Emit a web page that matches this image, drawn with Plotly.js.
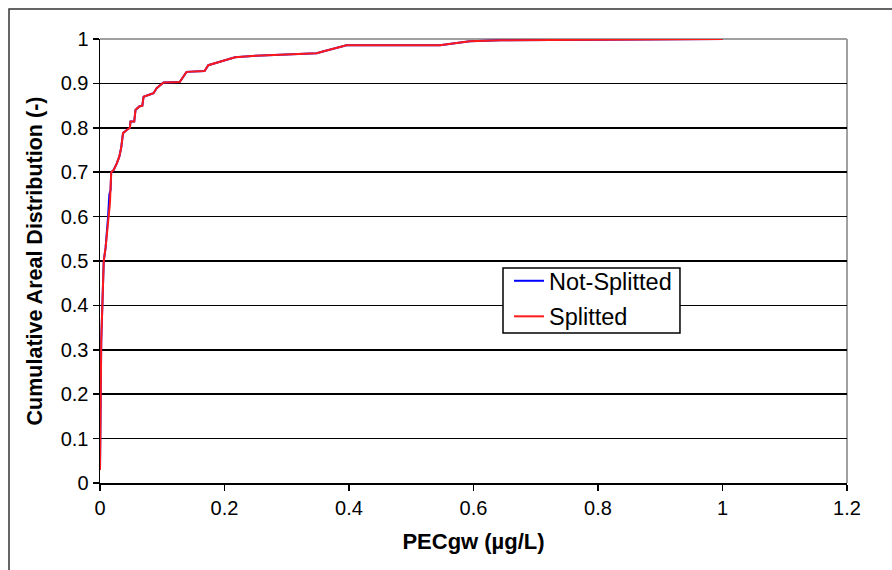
<!DOCTYPE html>
<html>
<head>
<meta charset="utf-8">
<script src="https://cdn.plot.ly/plotly-3.0.1.min.js"></script>
<style>html,body{margin:0;padding:0;background:#fff;}#chart{width:892px;height:570px;}</style>
</head>
<body>
<div id="chart"></div>
<script>
// PECgw values (µg/L) and cumulative areal distribution (-)
const notSplittedX = [0, 0.001, 0.002, 0.004, 0.006, 0.009, 0.011, 0.013, 0.015, 0.017, 0.018, 0.022, 0.027, 0.031, 0.034, 0.037, 0.043, 0.048, 0.049, 0.055, 0.057, 0.063, 0.068, 0.070, 0.080, 0.086, 0.091, 0.102, 0.128, 0.139, 0.168, 0.174, 0.198, 0.217, 0.250, 0.316, 0.348, 0.361, 0.396, 0.546, 0.594, 0.643, 0.800, 1.000];
const notSplittedY = [0.03, 0.15, 0.32, 0.41, 0.50, 0.53, 0.56, 0.60, 0.65, 0.66, 0.70, 0.705, 0.72, 0.735, 0.755, 0.788, 0.795, 0.80, 0.814, 0.814, 0.84, 0.848, 0.85, 0.87, 0.875, 0.878, 0.889, 0.902, 0.903, 0.926, 0.928, 0.941, 0.951, 0.959, 0.962, 0.965, 0.968, 0.973, 0.986, 0.986, 0.995, 0.997, 0.999, 1.0];
const splittedX = [0, 0.001, 0.002, 0.004, 0.006, 0.009, 0.011, 0.014, 0.016, 0.018, 0.022, 0.027, 0.031, 0.034, 0.037, 0.043, 0.048, 0.049, 0.055, 0.057, 0.063, 0.068, 0.070, 0.080, 0.086, 0.091, 0.102, 0.128, 0.139, 0.168, 0.174, 0.198, 0.217, 0.250, 0.316, 0.348, 0.361, 0.396, 0.546, 0.594, 0.643, 0.800, 1.000];
const splittedY = [0.03, 0.15, 0.32, 0.41, 0.50, 0.53, 0.56, 0.60, 0.63, 0.70, 0.705, 0.72, 0.735, 0.755, 0.788, 0.795, 0.80, 0.814, 0.814, 0.84, 0.848, 0.85, 0.87, 0.875, 0.878, 0.889, 0.902, 0.903, 0.926, 0.928, 0.941, 0.951, 0.959, 0.962, 0.965, 0.968, 0.973, 0.986, 0.986, 0.995, 0.997, 0.999, 1.0];
const seriesNames = ['Not-Splitted', 'Splitted'];
const xTickVals = [0, 0.2, 0.4, 0.6, 0.8, 1, 1.2];
const xTickText = ['0', '0.2', '0.4', '0.6', '0.8', '1', '1.2'];
const yTickVals = [0, 0.1, 0.2, 0.3, 0.4, 0.5, 0.6, 0.7, 0.8, 0.9, 1];
const yTickText = ['0', '0.1', '0.2', '0.3', '0.4', '0.5', '0.6', '0.7', '0.8', '0.9', '1'];

const FONT = 'Liberation Sans, Arial, sans-serif';

const traces = [
  {x: notSplittedX, y: notSplittedY, name: seriesNames[0], type: 'scatter', mode: 'lines',
   legendgroup: 'a', line: {color: '#0000ff', width: 2}},
  {x: splittedX, y: splittedY, name: seriesNames[1], type: 'scatter', mode: 'lines',
   legendgroup: 'b', line: {color: '#ff1a1a', width: 2}}
];

const layout = {
  width: 892, height: 570,
  margin: {l: 100, r: 45, t: 39, b: 87, pad: 0},
  paper_bgcolor: '#ffffff', plot_bgcolor: '#ffffff',
  font: {family: FONT, color: '#000000', size: 20},
  showlegend: true,
  legend: {x: 0.5475, y: 0.5045, xanchor: 'left', yanchor: 'top', bgcolor: 'rgba(0,0,0,0)',
           borderwidth: 0, font: {family: FONT, size: 23.5, color: '#000'},
           tracegroupgap: 2, itemwidth: 30},
  xaxis: {range: [0, 1.2], tickvals: xTickVals, ticktext: xTickText, ticks: 'outside', ticklen: 6,
          tickwidth: 1.5, tickcolor: '#000', showline: true, linecolor: '#000', linewidth: 1.5,
          showgrid: false, zeroline: false, layer: 'below traces',
          tickfont: {family: FONT, size: 20, color: '#000'},
          title: {text: '<b>PECgw (µg/L)</b>', font: {family: FONT, size: 22, color: '#000'}, standoff: 16}},
  yaxis: {range: [0, 1], tickvals: yTickVals, ticktext: yTickText, ticks: 'outside', ticklen: 6,
          tickwidth: 1.5, tickcolor: '#000', showline: true, linecolor: '#000', linewidth: 1.5,
          showgrid: true, gridcolor: '#000', gridwidth: 1.5, zeroline: false, layer: 'below traces',
          tickfont: {family: FONT, size: 20, color: '#000'},
          title: {text: '<b>Cumulative Areal Distribution (-)</b>', font: {family: FONT, size: 21.5, color: '#000'}, standoff: 12}},
  shapes: [
    {type: 'line', xref: 'x domain', yref: 'y domain', x0: 0, x1: 1, y0: 1, y1: 1,
     line: {color: '#a0a0a0', width: 2}, layer: 'below'},
    {type: 'line', xref: 'x domain', yref: 'y domain', x0: 1, x1: 1, y0: 0, y1: 1,
     line: {color: '#a0a0a0', width: 2}, layer: 'below'},
    {type: 'rect', xref: 'paper', yref: 'paper', x0: -0.1218, x1: 1.2, y0: -0.3, y1: 1.0676,
     line: {color: '#333333', width: 1.5}, fillcolor: 'rgba(0,0,0,0)', layer: 'below'},
    {type: 'rect', xref: 'paper', yref: 'paper', x0: 0.5395, x1: 0.7764, y0: 0.3378, y1: 0.4842,
     line: {color: '#000000', width: 1.5}, fillcolor: '#ffffff', layer: 'above'}
  ]
};

Plotly.newPlot('chart', traces, layout, {displayModeBar: false, staticPlot: true});
</script>
</body>
</html>
